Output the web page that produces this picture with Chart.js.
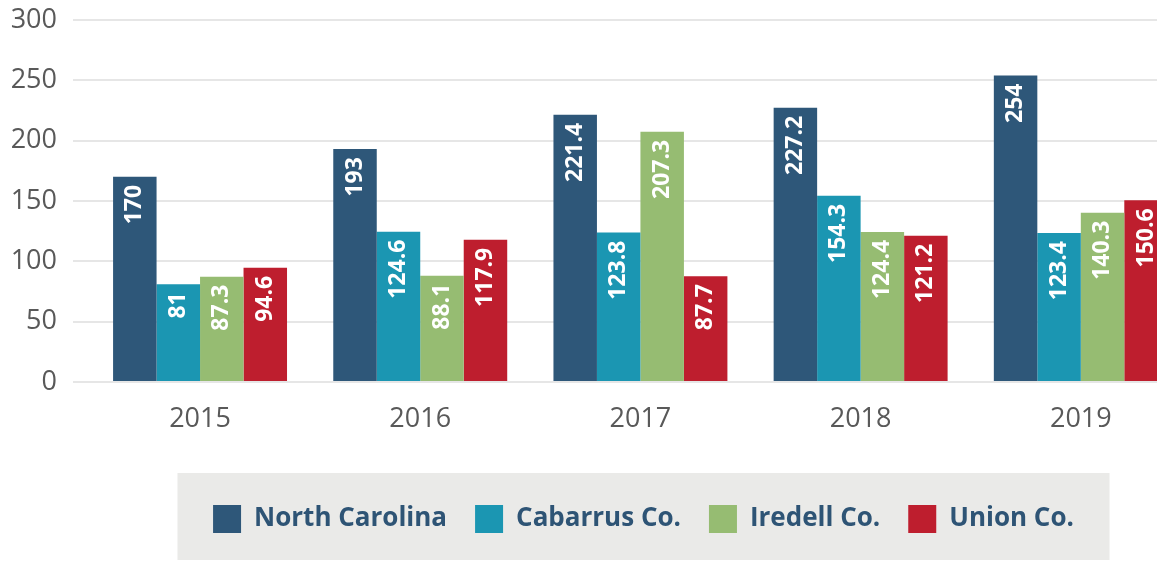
<!DOCTYPE html>
<html><head><meta charset="utf-8">
<script src="https://cdn.jsdelivr.net/npm/chart.js@4.4.1/dist/chart.umd.min.js"></script>
<style>html,body{margin:0;padding:0;background:#fff;overflow:hidden}#wrap{position:relative;width:1166px;height:561px}</style>
</head><body><div id="wrap"><canvas id="c"></canvas></div>
<script>
// ---- data ----
const years = ['2015', '2016', '2017', '2018', '2019'];
const seriesNames = ['North Carolina', 'Cabarrus Co.', 'Iredell Co.', 'Union Co.'];
const northCarolina = [170, 193, 221.4, 227.2, 254];
const cabarrus = [81, 124.6, 123.8, 154.3, 123.4];
const iredell = [87.3, 88.1, 207.3, 124.4, 140.3];
const union = [94.6, 117.9, 87.7, 121.2, 150.6];
const yMin = 0, yMax = 300, yStep = 50;

// ---- styles ----
const colors = ['#2E5779', '#1B96B2', '#96BC72', '#BE1E2E'];
const FONT = '"Open Sans", "DejaVu Sans", sans-serif';
Chart.defaults.font.family = FONT;

const allSeries = [northCarolina, cabarrus, iredell, union];
const datasets = allSeries.map((vals, s) => ({
  label: seriesNames[s],
  data: vals.map((v, i) => ({x: i, y: v})),
  backgroundColor: colors[s],
  borderWidth: 0,
  categoryPercentage: 0.79,
  barPercentage: 1.0
}));

const barLabels = {
  id: 'barLabels',
  afterDatasetsDraw(chart) {
    const ctx = chart.ctx;
    ctx.save();
    ctx.fillStyle = '#ffffff';
    ctx.font = 'bold 23px ' + FONT;
    ctx.textAlign = 'right';
    ctx.textBaseline = 'middle';
    chart.data.datasets.forEach((ds, di) => {
      const meta = chart.getDatasetMeta(di);
      meta.data.forEach((el, i) => {
        ctx.save();
        ctx.translate(el.x, el.y + 8);
        ctx.rotate(-Math.PI / 2);
        ctx.fillText(String(ds.data[i].y), 0, 0);
        ctx.restore();
      });
    });
    ctx.restore();
  }
};

const legendBox = {
  id: 'legendBox',
  afterUpdate(chart) {
    const lg = chart.legend;
    if (!lg) return;
    const dx = 643.5 - (lg.left + lg.right) / 2;
    lg.left += dx; lg.right += dx;
  },
  beforeDraw(chart) {
    const lg = chart.legend;
    if (!lg) return;
    const ctx = chart.ctx;
    const cx = (lg.left + lg.right) / 2;
    const top = lg.top - 4;
    ctx.save();
    ctx.fillStyle = '#EAEAE8';
    ctx.fillRect(cx - 466, top, 932, chart.height - 1 - top);
    ctx.restore();
  }
};

new Chart(document.getElementById('c'), {
  type: 'bar',
  data: { datasets },
  plugins: [barLabels, legendBox],
  options: {
    responsive: true,
    maintainAspectRatio: false,
    animation: false,
    layout: { padding: { top: 20, left: 0, right: 9, bottom: 18 } },
    plugins: {
      tooltip: { enabled: false },
      legend: {
        position: 'bottom',
        labels: {
          boxWidth: 28, boxHeight: 28, padding: 28,
          color: '#2E5475',
          font: { size: 26, weight: 'bold', family: FONT }
        }
      }
    },
    scales: {
      x: {
        type: 'linear',
        offset: false,
        min: -0.577, max: 4.346,
        grid: { display: false, drawTicks: false },
        border: { display: false },
        afterFit: s => { s.height = 95; },
        ticks: {
          stepSize: 1, includeBounds: false, autoSkip: false,
          padding: 21, color: '#595959',
          font: { size: 27, family: FONT },
          callback: v => years[v] !== undefined ? years[v] : ''
        }
      },
      y: {
        min: yMin, max: yMax,
        afterFit: s => { s.width = 73; },
        grid: { color: '#E6E6E6', lineWidth: 2, drawTicks: true, tickLength: 16, tickColor: 'rgba(0,0,0,0)' },
        border: { display: false },
        ticks: {
          stepSize: yStep, padding: 0, color: '#595959',
          font: { size: 27, family: FONT }
        }
      }
    }
  }
});
</script>
</body></html>
